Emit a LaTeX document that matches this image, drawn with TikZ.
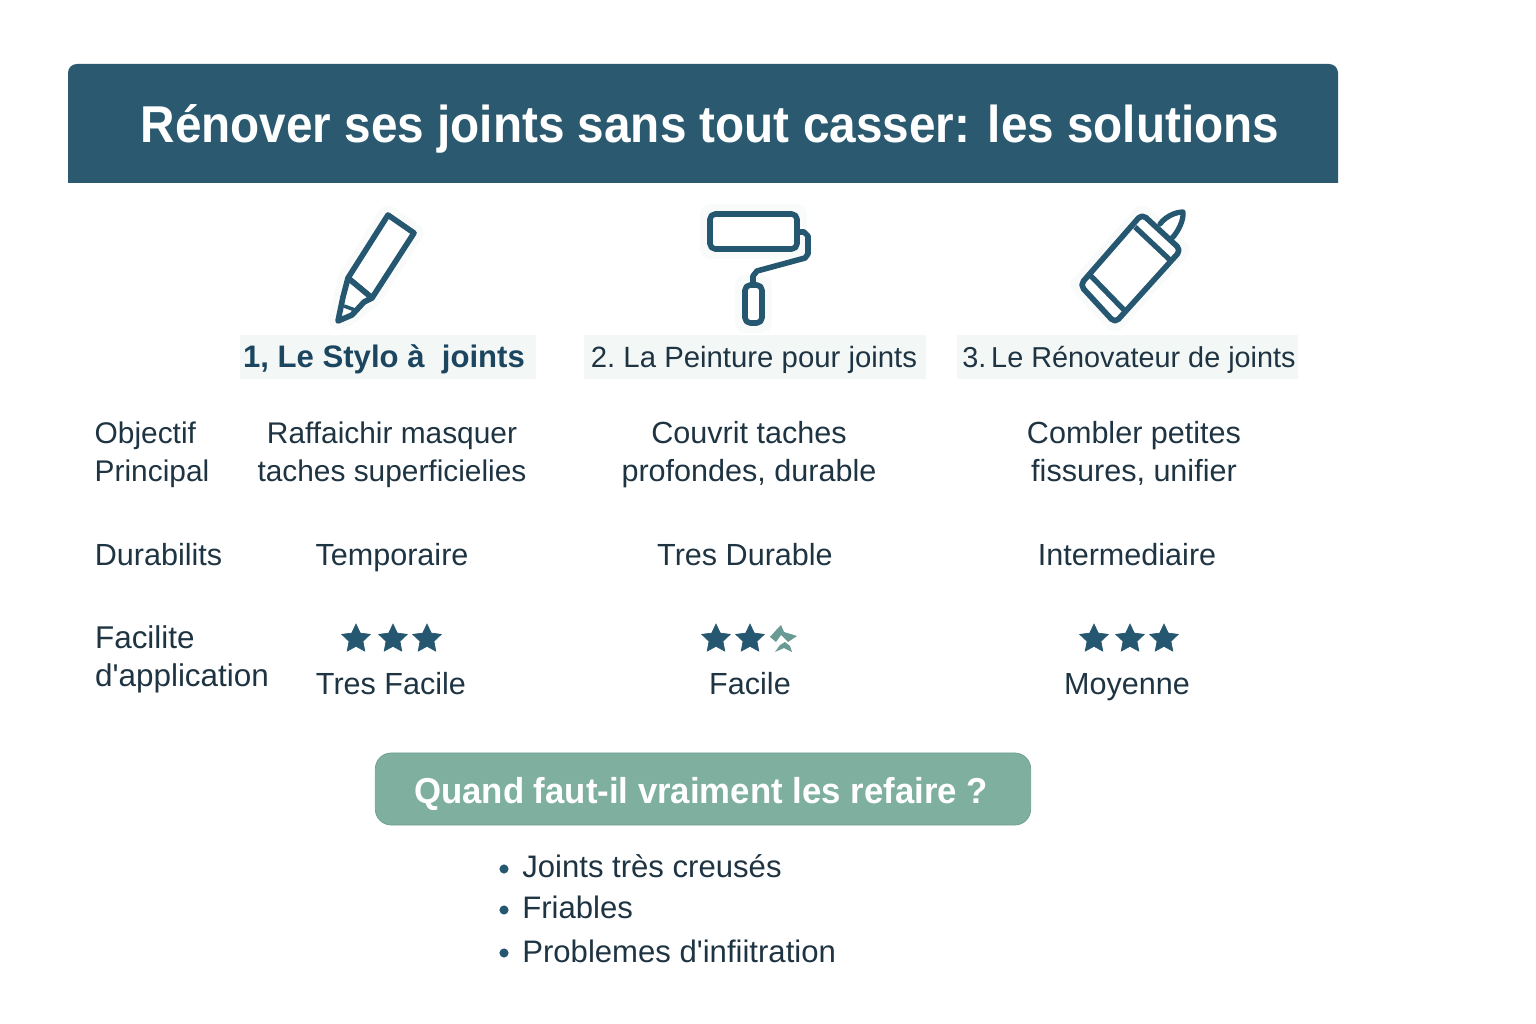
\documentclass[tikz,border=0pt]{standalone}
\usepackage{fontspec}
\setmainfont{Liberation Sans}
\newfontfamily\serre[FakeStretch=0.92]{Liberation Sans}
\newfontfamily\moinsserre[FakeStretch=0.965]{Liberation Sans}
\usetikzlibrary{shapes.geometric}
\newcommand{\apos}{\XeTeXglyph\XeTeXcharglyph"27 }
\definecolor{bandeau}{HTML}{2B5A70}
\definecolor{icone}{HTML}{255870}
\definecolor{vert}{HTML}{7FB09F}
\definecolor{pale}{HTML}{F3F8F7}
\definecolor{encre}{HTML}{1F3442}
\definecolor{titre}{HTML}{1C4560}
\tikzset{
  texte/.style={font=\fontsize{17.4}{21.6}\selectfont,text=encre,inner sep=0pt,align=center,anchor=base},
  ligne/.style={texte,align=left},
  entete/.style={fill=pale,minimum height=24.5pt,inner sep=0pt},
  libelle/.style={font=\fontsize{16.7}{21}\selectfont\frenchspacing,text=encre,inner sep=0pt,anchor=base},
  trait/.style={draw=icone,line width=3.2pt,line join=round,line cap=round,fill=white},
  halo/.style={draw=pale!50!white,line width=11pt,line join=round,line cap=round},
  etoile/.style={star,star points=5,star point ratio=2.05,fill=icone,draw=icone,inner sep=0pt,minimum size=17pt}
}
\begin{document}
\begin{tikzpicture}[x=0.02cm,y=-0.02cm]
  \useasboundingbox (0,0) rectangle (1536,1024);
  %bandeau
  \fill[bandeau] (68,183) {[rounded corners=5pt] -- (68,64) -- (1338,64)} -- (1338,183) -- cycle;
  \node[text=white,font=\fontsize{29.5}{36}\serre\bfseries\selectfont,inner sep=0pt,anchor=base] (titre) at (710,143) {Rénover ses joints sans tout casser: les solutions};
  %stylo
  \draw[halo] (388,215)--(414,233)--(372,298)--(350,315)--(338,320)--(348,278)--cycle;
  \draw[trait] (388,215)--(414,233)--(372,298)--(348,278)--cycle;
  \draw[trait] (348,278)--(372,298)--(364,302)--(352,315)--(338,321)--(343,297)--cycle;
  \draw[draw=icone,line width=2pt] (344,306)--(355,310);
  %rouleau
  \draw[halo] (710,214) rectangle (797,249); \draw[halo] (745,285) rectangle (762,323);
  \draw[trait,fill=none] (797,232)--(804,232)--(808,236)--(808,254)--(805,258)--(757,271)--(753,276)--(753,285);
  \draw[trait,rounded corners=3pt] (710,214) rectangle (797,249);
  \draw[trait,rounded corners=3pt] (745,285) rectangle (762,323);
  %renovateur
  \draw[halo] (1142,215)--(1180,250)--(1115,322)--(1080,285)--cycle;
  \draw[trait,line width=3pt] (1160,224) .. controls (1166,216) and (1176,212) .. (1183,212) .. controls (1184,220) and (1178,232) .. (1172,238);
  \draw[trait,rounded corners=3pt] (1142,214)--(1181,250)--(1115,323)--(1080,285)--cycle;
  \draw[draw=icone,line width=3pt] (1135,227)--(1170,260);
  \draw[draw=icone,line width=3pt] (1090,275)--(1124,310);
  %colonnes
  \node[entete,minimum width=168.5pt] (fond1) at (388,357) {};
  \node[entete,minimum width=194.5pt] (fond2) at (755,357) {};
  \node[entete,minimum width=194pt] (fond3) at (1127.5,357) {};
  \node[libelle,font=\fontsize{17.7}{21}\bfseries\selectfont,text=titre] (stylo) at (384,367) {1, Le Stylo à\ \ joints};
  \node[libelle] (peinture) at (754,367) {2. La Peinture pour joints};
  \node[libelle,font=\fontsize{16.4}{21}\selectfont] (renovateur) at (1129,367) {3.\,Le Rénovateur de joints};
  %objectif
  \node[ligne,font=\fontsize{17}{21.6}\selectfont] (objectif) at (152,481) {Objectif\\Principal};
  \node[texte,font=\fontsize{17}{21.6}\selectfont] (obj1) at (392,481) {Raffaichir masquer\\taches superficielies};
  \node[texte] (obj2) at (749,481) {Couvrit taches\\profondes, durable};
  \node[texte] (obj3) at (1134,481) {Combler petites\\fissures, unifier};
  %durabilite
  \node[ligne] (durabilite) at (158.5,565) {Durabilits};
  \node[texte] (dur1) at (392,565) {Temporaire};
  \node[texte] (dur2) at (745,565) {Tres Durable};
  \node[texte] (dur3) at (1127,565) {Intermediaire};
  %facilite
  \node[ligne,font=\fontsize{17.9}{21.6}\selectfont] (facilite) at (182,686) {Facilite\\d\apos application};
  \node[texte] (fac1) at (391,694) {Tres Facile};
  \node[texte] (fac2) at (750,694) {Facile};
  \node[texte] (fac3) at (1127,694) {Moyenne};
  \foreach \x in {356,393,427} \node[etoile] at (\x,639) {};
  \foreach \x in {716,750} \node[etoile] at (\x,639) {};
  \foreach \x in {1094,1130,1164} \node[etoile] at (\x,639) {};
  %etoile brisee
  \fill[vert!75!icone] (770,637)--(778,628)--(781,625)--(784,632)--(797,636)--(788,642)--(781,635)--(776,642)--cycle;
  \fill[vert!75!icone] (775,652)--(780,645)--(785,642)--(790,646)--(792,652)--(784,648)--cycle;
  %encadre
  \node[draw=vert!80!icone,fill=vert,rounded corners=9pt,minimum width=373pt,minimum height=41pt,inner sep=0pt] (quand) at (703,789) {};
  \node[text=white,font=\fontsize{20.5}{25}\moinsserre\bfseries\selectfont,inner sep=0pt,anchor=base] (question) at (701,803) {Quand faut-il vraiment les refaire ?};
  %liste
  \node[ligne,anchor=base west,font=\fontsize{17.7}{21.6}\selectfont] (liste1) at (522,877) {Joints très creusés};
  \node[ligne,anchor=base west,font=\fontsize{17.7}{21.6}\selectfont] (liste2) at (522,918) {Friables};
  \node[ligne,anchor=base west,font=\fontsize{17.7}{21.6}\selectfont] (liste3) at (522,962) {Problemes d\apos infiitration};
  \foreach \y in {869,910,953} \fill[icone] (504,\y) circle (2.6pt);
\end{tikzpicture}
\end{document}
